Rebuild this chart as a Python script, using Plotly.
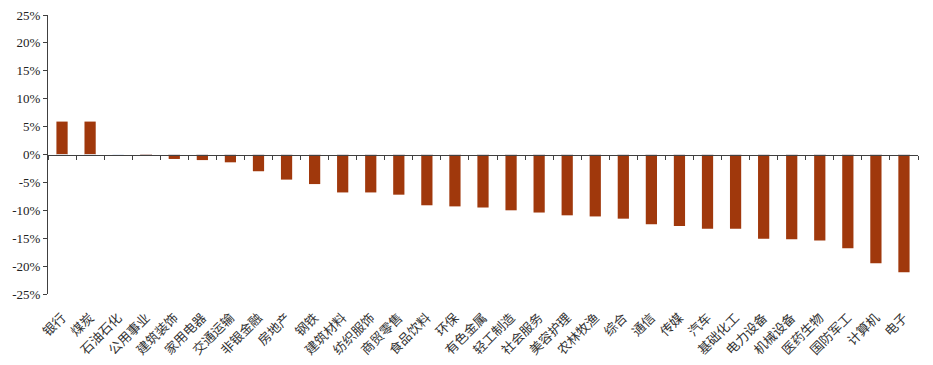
import plotly.graph_objects as go

categories = ["银行", "煤炭", "石油石化", "公用事业", "建筑装饰", "家用电器", "交通运输", "非银金融",
              "房地产", "钢铁", "建筑材料", "纺织服饰", "商贸零售", "食品饮料", "环保", "有色金属",
              "轻工制造", "社会服务", "美容护理", "农林牧渔", "综合", "通信", "传媒", "汽车",
              "基础化工", "电力设备", "机械设备", "医药生物", "国防军工", "计算机", "电子"]
values = [5.9, 5.9, 0.0, -0.25, -0.8, -1.0, -1.4, -3.0,
          -4.5, -5.3, -6.8, -6.8, -7.2, -9.1, -9.3, -9.5,
          -10.0, -10.4, -10.9, -11.1, -11.5, -12.5, -12.8, -13.3,
          -13.3, -15.1, -15.2, -15.4, -16.8, -19.5, -21.1]
y_ticks = [25, 20, 15, 10, 5, 0, -5, -10, -15, -20, -25]

font_family = "Liberation Serif, Noto Sans CJK SC"
axis_color = "#404040"

fig = go.Figure()
fig.add_trace(go.Bar(x=categories, y=values, marker=dict(color="#A0380C", line_width=0),
                     xaxis="x", yaxis="y"))
# invisible trace to drive the zero-line axis
fig.add_trace(go.Bar(x=categories, y=[0]*len(categories), xaxis="x2", yaxis="y",
                     marker=dict(color="rgba(0,0,0,0)"), showlegend=False, hoverinfo="skip"))

fig.update_layout(
    width=933, height=365,
    margin=dict(l=48, r=15, t=15, b=71),
    paper_bgcolor="white", plot_bgcolor="white",
    showlegend=False, bargap=0.6, barmode="overlay",
    font=dict(family=font_family, size=13, color="#222222"),
    xaxis=dict(
        type="category", range=[-0.5, len(categories) - 0.5],
        showline=False, ticks="outside", ticklen=10, tickcolor="rgba(0,0,0,0)",
        tickangle=-45, automargin=False,
        tickfont=dict(size=13, family=font_family, color="#333333"),
        showgrid=False, zeroline=False,
    ),
    xaxis2=dict(
        type="category", matches="x", overlaying="x", anchor="free", position=0.5,
        showline=True, linecolor=axis_color, linewidth=1,
        ticks="outside", tickson="boundaries", ticklen=4, tickcolor=axis_color,
        showticklabels=False, showgrid=False, zeroline=False, automargin=False,
    ),
    yaxis=dict(
        range=[-25, 25], tickvals=y_ticks, ticktext=[f"{v}%" for v in y_ticks],
        showline=True, linecolor=axis_color, linewidth=1,
        ticks="outside", ticklen=4, tickcolor=axis_color,
        showgrid=False, zeroline=False, automargin=False,
        tickfont=dict(size=13, family=font_family),
    ),
)

fig.write_html("out.html")
